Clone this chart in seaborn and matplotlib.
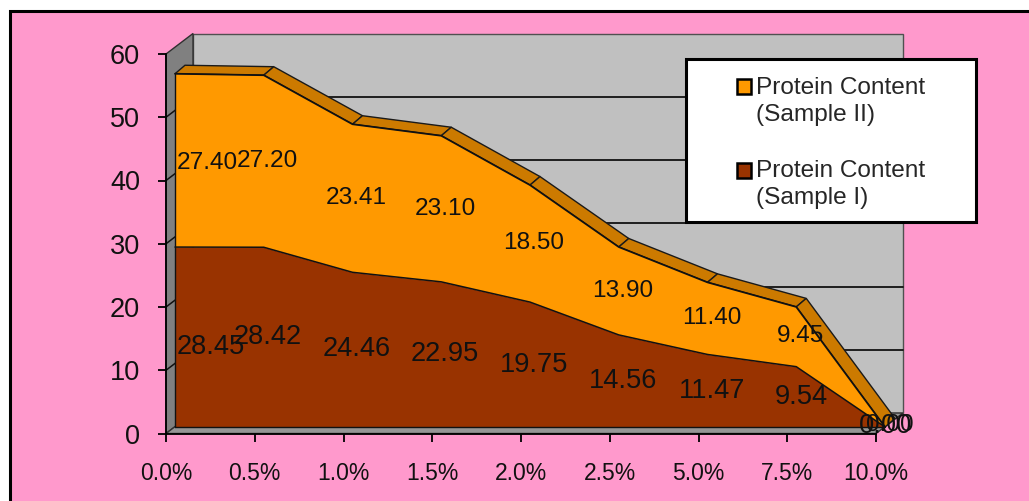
import pandas as pd
import seaborn as sns
import matplotlib.pyplot as plt
from matplotlib.patches import Rectangle, Patch

# Values
categories = ['0.0%', '0.5%', '1.0%', '1.5%', '2.0%', '2.5%', '5.0%', '7.5%', '10.0%']
sample_1 = [28.45, 28.42, 24.46, 22.95, 19.75, 14.56, 11.47, 9.54, 0.00]
sample_2 = [27.40, 27.20, 23.41, 23.10, 18.50, 13.90, 11.40, 9.45, 0.00]
y_ticks = [0, 10, 20, 30, 40, 50, 60]

# Label centres in pixels, the original labels sit off the areas a bit
label_px_1 = [(211, 347), (268, 337), (357, 349), (445, 354), (534, 365), (623, 381), (712, 391), (801, 397), (886, 426)]
label_px_2 = [(207, 163), (267, 161), (356, 198), (445, 209), (534, 243), (623, 291), (712, 318), (801, 336), (890, 425)]

W, H = 1029, 501
PINK = '#FF99CC'
ORANGE = '#FF9900'
BROWN = '#993300'
RIBBON = '#CC7A00'
WALL = '#C0C0C0'
SIDE = '#808080'
FLOOR = '#969696'

sns.set_style('ticks')
plt.rcParams['font.family'] = ['Liberation Sans', 'DejaVu Sans']

df = pd.DataFrame({'cat': categories, 'sample_1': sample_1, 'sample_2': sample_2})
df['pos'] = range(len(df))
df['stack'] = df['sample_1'] + df['sample_2']

fig = plt.figure(figsize=(W / 100, H / 100), dpi=100, facecolor='white')

# pink chart area, right and bottom edges run off the canvas
fig.add_artist(Rectangle((9.5 / W, -0.1), 1.2, 1 - 11 / H + 0.1, transform=fig.transFigure,
                         facecolor=PINK, edgecolor='black', linewidth=2.2, zorder=-5))

ax = fig.add_axes([166 / W, 1 - 433.5 / H, 710 / W, 379.5 / H])
ax.patch.set_alpha(0)
ax.set_xlim(0, 8)
ax.set_ylim(0, 60)

# depth of the 3D box and of the area front, in data units
wall_dx, wall_dy = 27 / 88.75, 20.5 / 6.325
front_dx, front_dy = 9 / 88.75, 6.5 / 6.325
rib_dx, rib_dy = 10 / 88.75, 8.5 / 6.325

# walls and floor
ax.fill([wall_dx, 8 + wall_dx, 8 + wall_dx, wall_dx], [wall_dy, wall_dy, 60 + wall_dy, 60 + wall_dy],
        facecolor=WALL, edgecolor='#505050', lw=1, clip_on=False, zorder=1)
ax.fill([0, wall_dx, wall_dx, 0], [0, wall_dy, 60 + wall_dy, 60],
        facecolor=SIDE, edgecolor='#303030', lw=1, clip_on=False, zorder=1)
ax.fill([0, 8, 8 + wall_dx, wall_dx], [0, 0, wall_dy, wall_dy],
        facecolor=FLOOR, edgecolor='#303030', lw=1, clip_on=False, zorder=1)

# gridlines on the back wall, with the short diagonal on the side wall
for v in y_ticks[1:-1]:
    ax.plot([wall_dx, 8 + wall_dx], [v + wall_dy, v + wall_dy], color='#111111', lw=1.3, clip_on=False, zorder=2)
    ax.plot([0, wall_dx], [v, v + wall_dy], color='#111111', lw=1.1, clip_on=False, zorder=2)

# top ribbon of the upper area, one face per segment
x_front = df['pos'] + front_dx
top_front = df['stack'] + front_dy
for i in range(len(df) - 1):
    xs = [x_front[i], x_front[i + 1], x_front[i + 1] + rib_dx, x_front[i] + rib_dx]
    ys = [top_front[i], top_front[i + 1], top_front[i + 1] + rib_dy, top_front[i] + rib_dy]
    ax.fill(xs, ys, facecolor=RIBBON, edgecolor='#1a1a1a', lw=1, clip_on=False, zorder=3)

# the stacked areas
ax.fill_between(x_front, df['sample_1'] + front_dy, top_front, color=ORANGE, lw=0, clip_on=False, zorder=4)
ax.fill_between(x_front, front_dy, df['sample_1'] + front_dy, color=BROWN, lw=0, clip_on=False, zorder=4)
outline = pd.DataFrame({'x': x_front, 'low': df['sample_1'] + front_dy, 'top': top_front})
sns.lineplot(data=outline, x='x', y='top', color='#111111', lw=1.3, clip_on=False, zorder=5, ax=ax)
sns.lineplot(data=outline, x='x', y='low', color='#111111', lw=1.1, clip_on=False, zorder=5, ax=ax)
ax.plot([x_front[0]] * 2, [front_dy, top_front[0]], color='#111111', lw=1, clip_on=False, zorder=5)
ax.plot([x_front[0], x_front[8]], [front_dy, front_dy], color='#111111', lw=1, clip_on=False, zorder=5)

# axes
ax.set_xticks(df['pos'])
ax.set_xticklabels(categories, fontsize=16.5, color='#111111')
ax.set_yticks(y_ticks)
ax.set_yticklabels(y_ticks, fontsize=19.5, color='#111111')
ax.tick_params(axis='x', length=5.8, width=1.3, pad=14.7, color='black')
ax.tick_params(axis='y', length=5.8, width=1.3, pad=13, color='black')
ax.set_xlabel('')
ax.set_ylabel('')
sns.despine(ax=ax)
for side in ['left', 'bottom']:
    ax.spines[side].set_linewidth(1.3)
    ax.spines[side].set_color('black')
    ax.spines[side].set_zorder(6)

# data labels
for (px, py), val in zip(label_px_1, sample_1):
    fig.text(px / W, 1 - py / H, f'{val:.2f}', fontsize=19.6, ha='center', va='center', color='#111111', zorder=10)
for (px, py), val in zip(label_px_2, sample_2):
    fig.text(px / W, 1 - py / H, f'{val:.2f}', fontsize=17.6, ha='center', va='center', color='#111111', zorder=10)

# legend box
ax.add_patch(Rectangle((686 / W, 1 - 222 / H), 290 / W, 163 / H, transform=fig.transFigure,
                       facecolor='white', edgecolor='black', linewidth=2.2, clip_on=False, zorder=8))
handles = [Patch(facecolor=ORANGE, edgecolor='black', lw=1.8), Patch(facecolor=BROWN, edgecolor='black', lw=1.8)]
leg = ax.legend(handles, ['Protein Content\n(Sample II)', 'Protein Content\n(Sample I)'],
                loc='upper left', bbox_to_anchor=(737 / W, 1 - 77 / H), bbox_transform=fig.transFigure,
                frameon=False, fontsize=17.6, handlelength=0.57, handleheight=0.57, handletextpad=0.2,
                labelspacing=1.4, borderpad=0, borderaxespad=0)
leg.set_zorder(9)
for t in leg.get_texts():
    t.set_linespacing(1.3)
# swatch sits beside the first line of each label
for p in leg.get_patches():
    p.set_y(p.get_y() + 10.4)

fig.savefig('out.png', dpi=100)
